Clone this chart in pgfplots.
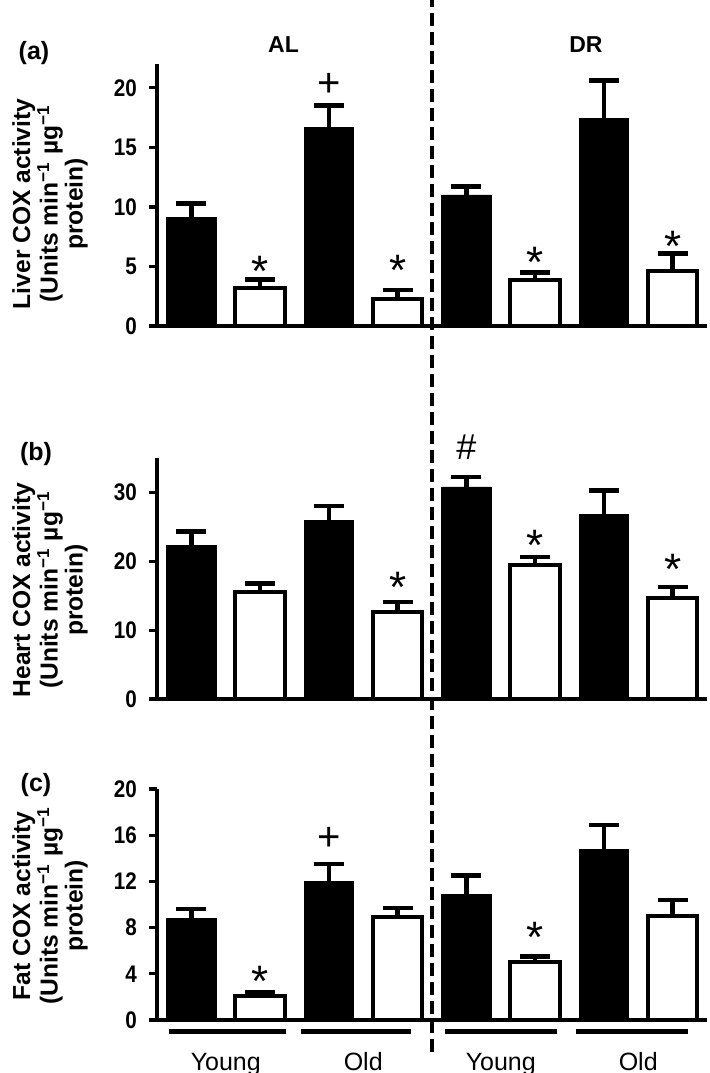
\documentclass[border=0pt]{standalone}
\usepackage{fontspec}
\setmainfont{Liberation Sans}
\newfontfamily\narrowfont{Liberation Sans}[FakeStretch=0.86]
\usepackage{pgfplots}
\usepackage{pgfplotstable}
\pgfplotsset{compat=1.18}

% Liver (a)
\pgfplotstableread{
x y e
0 9.1 1.2
2 16.7 1.8
4 11.0 0.7
6 17.4 3.2
}\Ablack
\pgfplotstableread{
x y e
1 3.2 0.7
3 2.3 0.7
5 3.85 0.65
7 4.6 1.5
}\Awhite
% Heart (b)
\pgfplotstableread{
x y e
0 22.35 1.95
2 25.9 2.1
4 30.8 1.4
6 26.85 3.45
}\Bblack
\pgfplotstableread{
x y e
1 15.6 1.2
3 12.7 1.4
5 19.4 1.25
7 14.6 1.7
}\Bwhite
% Fat (c)
\pgfplotstableread{
x y e
0 8.8 0.8
2 12.0 1.5
4 10.9 1.6
6 14.75 2.15
}\Cblack
\pgfplotstableread{
x y e
1 2.1 0.3
3 8.9 0.8
5 5.0 0.5
7 9.0 1.4
}\Cwhite

\pgfplotsset{
  panel/.style={
    scale only axis, width=275pt, xmin=-0.5, xmax=7.5, ymin=0,
    axis x line*=bottom, axis y line*=left,
    axis line style={line width=2.3pt},
    xtick=\empty, ytick pos=left, tick align=outside,
    major tick length=4pt,
    every tick/.style={line width=1.6pt, black},
    /pgf/number format/assume math mode=true,
    yticklabel style={font=\narrowfont\bfseries\fontsize{12}{13}\selectfont, xshift=-2.5pt},
    clip=false, anchor=south west,
    ylabel style={font=\bfseries\fontsize{12.3}{12.5}\selectfont, align=center, anchor=center},
  },
  blackbar/.style={ybar, bar width=0.72, bar shift=0pt, fill=black, draw=black,
    error bars/.cd, y dir=plus, y explicit,
    error bar style={line width=2.2pt, black},
    error mark options={rotate=90, mark size=7.5pt, line width=2.2pt, black}},
  whitebar/.style={ybar, bar width=0.72, bar shift=0pt, fill=white, draw=black, line width=2pt,
    error bars/.cd, y dir=plus, y explicit,
    error bar style={line width=2.2pt, black},
    error mark options={rotate=90, mark size=7.5pt, line width=2.2pt, black}},
}
\tikzset{
  star/.style={font=\fontsize{22}{22}\selectfont, anchor=base, yshift=-12.5pt, inner sep=0pt},
  plus/.style={font=\fontsize{20}{20}\selectfont, anchor=base, yshift=-7.2pt, inner sep=0pt},
  hash/.style={font=\fontsize{18}{18}\selectfont, anchor=base, yshift=-6.3pt, inner sep=0pt},
  paneltag/.style={font=\bfseries\fontsize{12.5}{12.5}\selectfont},
  grouptag/.style={font=\bfseries\fontsize{11.5}{11.5}\selectfont},
}

\begin{document}
\begin{tikzpicture}
\path[use as bounding box] (0,0) rectangle (354.5pt,536.5pt);

% (a) Liver
\begin{axis}[panel, at={(78.5pt,373.5pt)}, height=131pt, ymax=22,
  ytick={0,5,10,15,20},
  ylabel={Liver COX activity\\(Units min\textsuperscript{−1} µg\textsuperscript{−1}\\protein)},
  ylabel style={at={(axis description cs:-0.1945,0.466)}}]
\addplot[blackbar] table[x=x, y=y, y error=e] {\Ablack};
\addplot[whitebar] table[x=x, y=y, y error=e] {\Awhite};
\node[star] at (axis cs:1,5.4) {*};
\node[star] at (axis cs:3,5.5) {*};
\node[star] at (axis cs:5,6.2) {*};
\node[star] at (axis cs:7,7.5) {*};
\node[plus] at (axis cs:2,20.5) {+};
\node[grouptag] at (axis cs:1.34,23.6) {AL};
\node[grouptag] at (axis cs:5.74,23.6) {DR};
\end{axis}

% (b) Heart
\begin{axis}[panel, at={(78.5pt,187pt)}, height=120.5pt, ymax=35,
  ytick={0,10,20,30},
  ylabel={Heart COX activity\\(Units min\textsuperscript{−1} µg\textsuperscript{−1}\\protein)},
  ylabel style={at={(axis description cs:-0.1945,0.452)}}]
\addplot[blackbar] table[x=x, y=y, y error=e] {\Bblack};
\addplot[whitebar] table[x=x, y=y, y error=e] {\Bwhite};
\node[hash] at (axis cs:4,36.6) {\#};
\node[star] at (axis cs:3,17.6) {*};
\node[star] at (axis cs:5,23.8) {*};
\node[star] at (axis cs:7,20.2) {*};
\end{axis}

% (c) Fat
\begin{axis}[panel, at={(78.5pt,26.5pt)}, height=115.5pt, ymax=20,
  ytick={0,4,8,12,16,20},
  xtick={0.5,2.5,4.5,6.5}, xticklabels={Young,Old,Young,Old},
  x tick style={draw=none},
  xticklabel style={font=\fontsize{12.5}{13}\selectfont, anchor=base, yshift=-21pt},
  ylabel={Fat COX activity\\(Units min\textsuperscript{−1} µg\textsuperscript{−1}\\protein)},
  ylabel style={at={(axis description cs:-0.1945,0.494)}}]
\addplot[blackbar] table[x=x, y=y, y error=e] {\Cblack};
\addplot[whitebar] table[x=x, y=y, y error=e] {\Cwhite};
\node[plus] at (axis cs:2,15.9) {+};
\node[star] at (axis cs:1,4.2) {*};
\node[star] at (axis cs:5,8.0) {*};
\draw[line width=2.5pt] (axis cs:-0.32,-1.02) -- (axis cs:1.38,-1.02);
\draw[line width=2.5pt] (axis cs:1.60,-1.02) -- (axis cs:3.20,-1.02);
\draw[line width=2.5pt] (axis cs:3.69,-1.02) -- (axis cs:5.32,-1.02);
\draw[line width=2.5pt] (axis cs:5.59,-1.02) -- (axis cs:7.23,-1.02);
\end{axis}

% panel letters
\node[paneltag] at (17pt,510pt) {(a)};
\node[paneltag] at (18pt,309.5pt) {(b)};
\node[paneltag] at (18pt,144pt) {(c)};

% dashed separator
\draw[line width=2.4pt, dash pattern=on 6.5pt off 3pt] (216pt,10.5pt) -- (216pt,536.5pt);
\end{tikzpicture}
\end{document}
